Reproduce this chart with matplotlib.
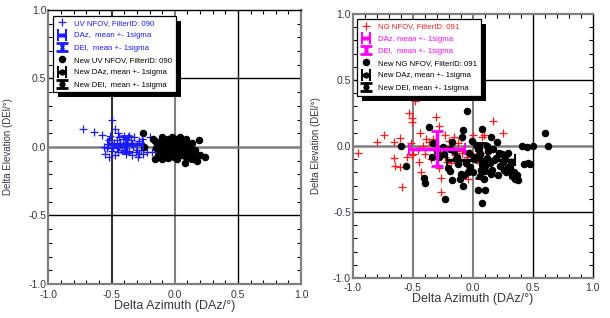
import matplotlib
matplotlib.use("Agg")
import matplotlib.pyplot as plt
from matplotlib.patches import Rectangle
from matplotlib.ticker import MultipleLocator
import numpy as np

plt.rcParams['font.family'] = ['Liberation Sans', 'DejaVu Sans']

# ---------------- data: left panel (UV NFOV, FilterID 090) ----------------
uv_x = [-0.73, -0.64, -0.58, -0.50, -0.47, -0.45, -0.44, -0.52, -0.53, -0.54,
        -0.55, -0.52, -0.50, -0.49, -0.48, -0.46, -0.45, -0.43, -0.42, -0.41,
        -0.40, -0.39, -0.38, -0.37, -0.36, -0.35, -0.34, -0.33, -0.32, -0.31,
        -0.30, -0.29, -0.28, -0.27, -0.26, -0.25, -0.24, -0.22, -0.20, -0.18,
        -0.51, -0.47, -0.44, -0.40, -0.36, -0.34, -0.30, -0.28, -0.56, -0.46]
uv_y = [0.13, 0.11, 0.09, 0.20, 0.13, 0.10, 0.07, 0.05, 0.02, -0.01,
        -0.05, -0.07, -0.03, 0.00, 0.03, -0.01, -0.04, 0.02, -0.02, 0.06,
        0.08, -0.05, 0.03, 0.07, -0.03, 0.05, -0.06, 0.01, 0.07, -0.04,
        0.02, -0.07, 0.04, -0.02, 0.06, -0.05, 0.01, -0.04, 0.07, -0.04,
        0.08, -0.06, 0.01, 0.00, 0.08, 0.02, -0.02, -0.05, 0.00, 0.05]
new_uv_x = [-0.25, -0.245, -0.16, -0.10, 0.08, 0.18, 0.24, 0.19, -0.17, -0.14,
            -0.12, -0.10, -0.08, -0.07, -0.05, -0.04, -0.03, -0.02, -0.01, 0.00,
            0.01, 0.02, 0.03, 0.04, 0.05, 0.06, 0.07, 0.08, 0.09, 0.10,
            0.11, 0.12, 0.13, 0.14, 0.15, 0.17, 0.20, -0.15, -0.13, -0.11,
            -0.09, -0.06, -0.05, -0.02, 0.00, 0.02, 0.04, 0.06, 0.08, 0.10,
            0.12, -0.07, -0.04, 0.01, 0.05, 0.09, 0.11, -0.12, -0.16, 0.03,
            0.14, -0.01, 0.07, -0.08, 0.16]
new_uv_y = [0.10, 0.00, -0.09, -0.09, -0.12, -0.10, -0.07, 0.05, 0.06, 0.03,
            -0.02, 0.07, 0.01, -0.05, 0.06, 0.03, -0.03, 0.07, -0.07, 0.02,
            -0.01, 0.05, -0.04, 0.07, 0.00, -0.06, 0.03, -0.02, 0.06, -0.05,
            0.01, -0.08, -0.03, 0.03, -0.06, -0.07, -0.06, -0.01, -0.06, 0.04,
            -0.04, 0.00, -0.08, 0.02, -0.04, -0.09, -0.01, 0.05, 0.00, 0.03,
            -0.01, 0.05, -0.01, 0.06, -0.03, -0.07, -0.03, 0.01, 0.04, 0.01,
            -0.09, 0.04, -0.04, -0.07, -0.02]
uv_mean = (-0.39, 0.02)
uv_sigma = (0.14, 0.06)
new_uv_mean = (0.01, -0.01)
new_uv_sigma = (0.10, 0.05)

# ---------------- data: right panel (NG NFOV, FilterID 091) ----------------
ng_x = [-0.96, -0.80, -0.74, -0.66, -0.61, -0.66, -0.65, -0.61, -0.59, -0.53,
        -0.51, -0.51, -0.48, -0.44, -0.42, -0.39, -0.45, -0.43, -0.31, -0.28,
        -0.27, -0.27, -0.23, -0.20, -0.16, -0.10, -0.04, 0.00, 0.08, 0.17,
        0.25, -0.51, -0.50, -0.23, -0.18, -0.09, -0.06, -0.13, -0.55, -0.52,
        -0.46, -0.40, -0.37, -0.35, -0.33, -0.25, -0.22, -0.19, -0.15, -0.12,
        -0.08, -0.05, -0.02, 0.05, 0.12, -0.28, -0.30, 0.09]
ng_y = [-0.05, 0.03, 0.08, 0.03, 0.06, -0.09, -0.15, -0.16, -0.31, 0.25,
        0.21, 0.18, 0.34, 0.10, 0.00, 0.05, -0.12, -0.20, 0.22, 0.15,
        -0.24, -0.35, 0.08, 0.04, 0.07, 0.06, -0.25, 0.08, 0.07, 0.19,
        0.10, -0.07, -0.06, -0.08, -0.13, -0.05, -0.14, -0.04, -0.08, 0.02,
        -0.03, -0.06, 0.03, -0.10, 0.05, -0.02, -0.12, 0.00, -0.07, 0.02,
        -0.03, -0.08, -0.05, -0.13, -0.05, -0.17, 0.00, 0.08]
new_ng_x = [-0.56, -0.60, -0.37, -0.41, -0.40, -0.23, -0.05, 0.08, 0.04, 0.10,
            0.08, 0.60, 0.63, 0.50, 0.45, 0.41, 0.43, 0.46, 0.48, 0.38,
            0.35, 0.30, 0.29, 0.27, 0.20, 0.15, -0.09, -0.08, -0.17, -0.19,
            -0.17, -0.08, -0.12, -0.28, -0.34, -0.33, -0.25, -0.01, 0.04, 0.02,
            0.06, 0.10, 0.12, 0.14, 0.16, 0.18, 0.21, 0.23, 0.25, 0.28,
            0.31, 0.33, 0.36, 0.07, 0.09, 0.11, 0.13, 0.05, 0.03, -0.03,
            -0.06, -0.10, -0.14, -0.16, -0.21, -0.24, -0.30, 0.00, 0.19, 0.22,
            0.26, 0.32, 0.37, 0.15, 0.12, 0.08, -0.02, -0.11, -0.07, 0.01,
            0.17, 0.24, 0.29, 0.34, -0.19, -0.13, 0.06, 0.10, 0.27, -0.04]
new_ng_y = [-0.15, 0.00, 0.14, -0.24, -0.28, -0.40, 0.265, 0.13, -0.33, -0.33,
            -0.43, 0.10, 0.00, 0.00, -0.01, 0.00, -0.14, -0.13, -0.14, -0.26,
            -0.25, -0.19, -0.05, -0.08, 0.03, 0.07, 0.07, 0.12, 0.03, -0.19,
            -0.26, -0.30, -0.14, -0.08, -0.08, 0.02, -0.01, 0.04, -0.02, -0.10,
            -0.06, -0.15, -0.09, -0.13, -0.18, -0.11, -0.22, -0.15, -0.12, -0.20,
            -0.16, -0.23, -0.22, -0.18, -0.25, -0.11, -0.04, -0.07, 0.01, -0.05,
            -0.13, -0.21, -0.10, -0.04, -0.17, -0.06, -0.04, -0.20, -0.09, -0.05,
            -0.18, -0.12, -0.22, -0.21, 0.00, -0.14, -0.16, -0.25, -0.22, -0.08,
            -0.02, -0.06, -0.16, -0.20, -0.02, -0.08, -0.23, -0.19, -0.10, -0.20]
ng_mean = (-0.30, -0.02)
ng_sigma = (0.235, 0.13)
new_ng_mean = (0.065, -0.11)
new_ng_sigma = (0.285, 0.13)

ticks = [-1.0, -0.5, 0.0, 0.5, 1.0]
tick_labels = ["-1.0", "-0.5", "0.0", "0.5", "1.0"]

BLUE = "#1a1aff"
RED = "#ff1a1a"
MAG = "#ff00ff"
GRAY = "#7f7f7f"
TXT = "#333844"

fig = plt.figure(figsize=(6.10, 3.18), dpi=100)
axL = fig.add_axes([0.0795, 0.107, 0.414, 0.862])
axR = fig.add_axes([0.5787, 0.126, 0.393, 0.830])


def style_axes(ax, grid_colors):
    ax.set_xlim(-1, 1)
    ax.set_ylim(-1, 1)
    ax.set_xticks(ticks)
    ax.set_xticklabels(tick_labels)
    ax.set_yticks(ticks)
    ax.set_yticklabels(tick_labels)
    ax.xaxis.set_minor_locator(MultipleLocator(0.1))
    ax.yaxis.set_minor_locator(MultipleLocator(0.1))
    ax.tick_params(which='major', length=0, labelsize=7.5, labelcolor=TXT)
    ax.tick_params(axis='x', which='major', pad=4)
    ax.tick_params(axis='y', which='major', pad=1.5)
    ax.tick_params(which='minor', direction='in', length=3, width=0.8,
                   top=True, right=True, color='black')
    for v, c in zip([-0.5, 0.0, 0.5], grid_colors['x']):
        ax.axvline(v, color=c, lw=1.0 if c == 'black' else 1.5, zorder=1)
    for v, c in zip([-0.5, 0.0, 0.5], grid_colors['y']):
        ax.axhline(v, color=c, lw=1.0 if c == 'black' else 1.8, zorder=1)
    for s in ax.spines.values():
        s.set_color(GRAY)
        s.set_linewidth(1.6)
    ax.set_xlabel("Delta Azimuth (DAz/°)", fontsize=9, color=TXT, labelpad=0)
    ax.set_ylabel("Delta Elevation (DEl/°)", fontsize=7, color=TXT, labelpad=1)


def add_shadow(ax, leg, dx=5, dy=5):
    fig.canvas.draw()
    bb = leg.get_window_extent()
    r = Rectangle((bb.x0 + dx, bb.y0 - dy), bb.width, bb.height,
                  transform=None, facecolor='black', edgecolor='none',
                  zorder=4.5, clip_on=False)
    ax.add_artist(r)


def panel(ax, px, py, nx, ny, m, s, nm, ns, col, mcol, lab, nlab, lbls, grid_colors):
    style_axes(ax, grid_colors)
    h1 = ax.plot(px, py, '+', color=col, ms=6, mew=0.9, ls='none', zorder=3, label=lab)[0]
    h4 = ax.plot(nx, ny, 'o', color='black', ms=4.4, ls='none', zorder=3, label=nlab)[0]
    h2 = ax.errorbar([m[0]], [m[1]], xerr=[s[0]], fmt='x', ms=3, color=mcol,
                     elinewidth=2.5, capsize=4, capthick=1.5, zorder=4, label=lbls[0])
    h3 = ax.errorbar([m[0]], [m[1]], yerr=[s[1]], fmt='x', ms=3, color=mcol,
                     elinewidth=2.5, capsize=4, capthick=2, zorder=4, label=lbls[1])
    h5 = ax.errorbar([nm[0]], [nm[1]], xerr=[ns[0]], fmt='o', ms=3.5, color='black',
                     elinewidth=2.5, capsize=4, capthick=1.5, zorder=4, label=lbls[2])
    h6 = ax.errorbar([nm[0]], [nm[1]], yerr=[ns[1]], fmt='o', ms=3.5, color='black',
                     elinewidth=2.5, capsize=4, capthick=2, zorder=4, label=lbls[3])
    leg = ax.legend(handles=[h1, h2, h3, h4, h5, h6],
                    labels=[lab, lbls[0], lbls[1], nlab, lbls[2], lbls[3]],
                    loc='upper left', fontsize=5.6, labelspacing=0.62,
                    handlelength=1.3, handletextpad=0.9, borderpad=0.5,
                    fancybox=False, edgecolor='black', framealpha=1,
                    labelcolor=[col, mcol, mcol, 'black', 'black', 'black'],
                    borderaxespad=0)
    leg.get_frame().set_linewidth(0.9)
    leg.set_zorder(5)
    return leg


legL = panel(axL, uv_x, uv_y, new_uv_x, new_uv_y, uv_mean, uv_sigma,
             new_uv_mean, new_uv_sigma, BLUE, BLUE,
             "UV NFOV, FilterID: 090", "New UV NFOV, FilterID: 090",
             ["DAz,  mean +- 1sigma", "DEl,  mean +- 1sigma",
              "New DAz, mean +- 1sigma", "New DEl,  mean +- 1sigma"],
             {'x': ['#333333', GRAY, 'black'], 'y': ['black', GRAY, 'black']})
legL.set_bbox_to_anchor((0.018, 0.978), transform=axL.transAxes)
axL.spines['top'].set_color('black')
axL.spines['top'].set_linewidth(1.0)

legR = panel(axR, ng_x, ng_y, new_ng_x, new_ng_y, ng_mean, ng_sigma,
             new_ng_mean, new_ng_sigma, RED, MAG,
             "NG NFOV, FilterID: 091", "New NG NFOV, FilterID: 091",
             ["DAz, mean +- 1sigma", "DEl,  mean +- 1sigma",
              "New DAz, mean +- 1sigma", "New DEl, mean +- 1sigma"],
             {'x': [GRAY, GRAY, 'black'], 'y': ['black', GRAY, 'black']})
legR.set_bbox_to_anchor((0.017, 0.981), transform=axR.transAxes)
axR.spines['right'].set_color('black')
axR.spines['right'].set_linewidth(1.0)

axL.yaxis.set_label_coords(-0.14, 0.5)
axR.yaxis.set_label_coords(-0.135, 0.5)

add_shadow(axL, legL)
add_shadow(axR, legR)

fig.savefig("out.png", dpi=100)
